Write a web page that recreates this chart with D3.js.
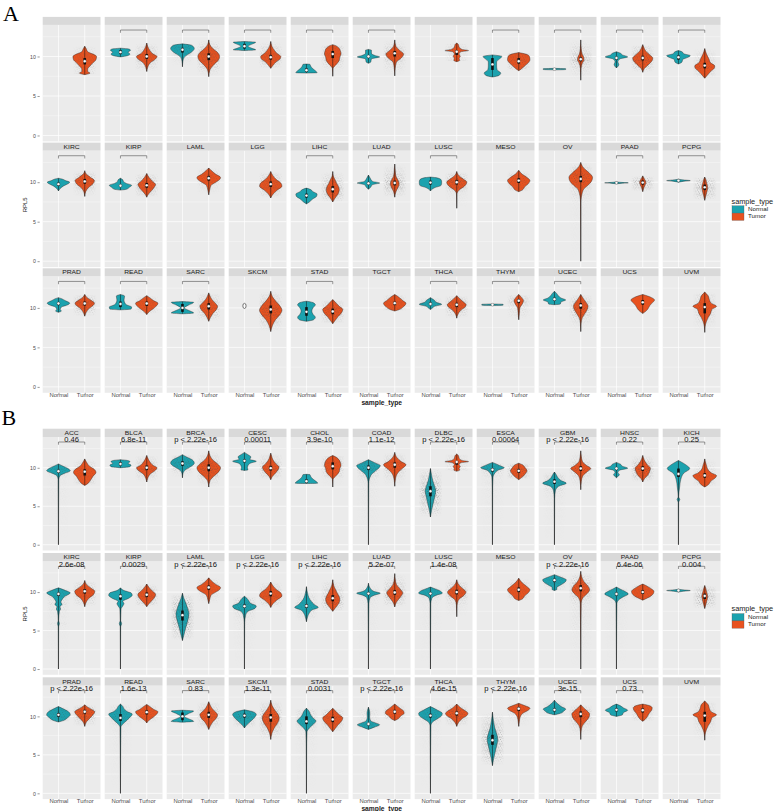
<!DOCTYPE html>
<html><head><meta charset="utf-8">
<script src="https://cdn.jsdelivr.net/npm/d3@7"></script>
<style>body{margin:0;background:#fff}</style>
</head><body><svg id="c" width="777" height="811"></svg>
<script>
const cancers = ["ACC","BLCA","BRCA","CESC","CHOL","COAD","DLBC","ESCA","GBM","HNSC","KICH",
 "KIRC","KIRP","LAML","LGG","LIHC","LUAD","LUSC","MESO","OV","PAAD","PCPG",
 "PRAD","READ","SARC","SKCM","STAD","TGCT","THCA","THYM","UCEC","UCS","UVM"];
const groups = ["Normal","Tumor"];
const yTicks = [0,5,10];
const yMinor = [2.5,7.5,12.5];
const bracketA = [0,1,1,1,1,1,0,1,1,1,1, 1,1,0,0,1,1,1,0,0,1,1, 1,1,1,0,1,0,1,1,1,0,0];
const pvalsB = ["0.46","6.8e-11","p < 2.22e-16","0.00011","3.9e-10","1.1e-12","p < 2.22e-16","0.00064","p < 2.22e-16","0.22","0.25",
 "2.6e-08","0.0029","p < 2.22e-16","p < 2.22e-16","p < 2.22e-16","5.2e-07","1.4e-08",null,"p < 2.22e-16","6.4e-06","0.004",
 "p < 2.22e-16","1.6e-13","0.83","1.3e-11","0.0031","p < 2.22e-16","4.6e-15","p < 2.22e-16","3e-15","0.73",null];

// each violin: [median, q1, q3, jitterLevel, [[value, relativeHalfWidth], ...]]
const normalA = [
 null,
 [10.55,10.3,10.8,0,[[9.95,0],[10.1,0.6],[10.3,0.8],[10.55,0.65],[10.8,0.85],[10.95,0.7],[11.05,0]]],
 [10.85,10.5,11.1,1,[[8.7,0],[9.4,0.04],[9.9,0.15],[10.3,0.5],[10.6,0.8],[11.0,1.0],[11.4,0.8],[11.6,0]]],
 [11.3,11.0,11.6,0,[[10.75,0],[10.85,0.95],[11.0,0.7],[11.3,0.3],[11.6,0.7],[11.8,0.95],[11.9,0]]],
 [8.25,8.05,8.5,0,[[7.9,0],[7.95,0.9],[8.2,0.75],[8.5,0.5],[8.8,0.35],[9.0,0.3],[9.05,0]]],
 [10.0,9.85,10.15,0,[[9.15,0],[9.3,0.2],[9.7,0.25],[9.95,0.95],[10.1,0.6],[10.4,0.25],[10.8,0.25],[10.9,0]]],
 null,
 [9.0,8.3,9.8,0,[[7.4,0],[7.6,0.55],[7.9,0.7],[8.3,0.4],[8.8,0.35],[9.3,0.35],[9.7,0.6],[10.0,0.8],[10.2,0]]],
 [8.4,8.35,8.45,0,[[8.3,0],[8.35,0.95],[8.45,0.95],[8.5,0]]],
 [9.8,9.6,10.0,0,[[8.55,0],[8.7,0.1],[9.0,0.2],[9.3,0.12],[9.7,0.3],[9.95,0.95],[10.2,0.5],[10.4,0.35],[10.6,0]]],
 [9.9,9.6,10.15,0,[[9.05,0],[9.3,0.3],[9.6,0.35],[9.9,0.8],[10.1,1.0],[10.35,0.45],[10.6,0.3],[10.75,0]]],
 [9.75,9.55,9.95,0,[[8.9,0],[9.2,0.15],[9.5,0.4],[9.8,0.8],[10.0,0.95],[10.2,0.6],[10.4,0.3],[10.5,0]]],
 [9.55,9.4,9.7,0,[[9.0,0],[9.1,0.5],[9.35,0.75],[9.6,0.95],[9.85,0.5],[10.1,0.25],[10.3,0.2],[10.5,0]]],
 null,
 null,
 [8.3,8.05,8.55,0,[[7.25,0],[7.5,0.25],[7.9,0.55],[8.2,0.85],[8.5,0.9],[8.8,0.55],[9.1,0.3],[9.25,0]]],
 [9.85,9.7,10.0,0,[[9.1,0],[9.4,0.2],[9.7,0.35],[9.9,0.95],[10.1,0.35],[10.5,0.15],[10.9,0]]],
 [9.95,9.7,10.2,0,[[8.9,0],[9.3,0.35],[9.6,0.9],[10.0,0.95],[10.3,0.9],[10.55,0.55],[10.65,0]]],
 null,
 null,
 [9.92,9.88,9.96,0,[[9.8,0],[9.85,0.4],[9.92,1.0],[9.98,0.4],[10.05,0]]],
 [10.2,10.15,10.25,0,[[10.0,0],[10.1,0.4],[10.2,1.0],[10.3,0.3],[10.4,0]]],
 [10.55,10.35,10.75,0,[[9.45,0],[9.6,0.25],[9.8,0.15],[10.1,0.25],[10.4,0.8],[10.6,0.95],[10.9,0.6],[11.2,0.2],[11.3,0]]],
 [10.5,10.1,10.8,0,[[9.75,0],[9.85,0.9],[10.1,0.95],[10.4,0.5],[10.7,0.35],[11.0,0.3],[11.5,0.35],[11.7,0]]],
 [10.0,9.5,10.5,0,[[9.25,0],[9.35,0.95],[9.7,0.5],[10.0,0.15],[10.35,0.5],[10.7,0.95],[10.8,0]]],
 [10.25,10.25,10.25,0,[[10.25,0]]],
 [9.5,9.0,10.1,0,[[8.3,0],[8.5,0.6],[8.8,0.75],[9.2,0.55],[9.6,0.45],[10.0,0.55],[10.4,0.75],[10.7,0.5],[10.85,0]]],
 null,
 [10.5,10.35,10.7,1,[[9.8,0],[9.95,0.15],[10.2,0.35],[10.45,0.95],[10.7,0.5],[10.95,0.35],[11.15,0.15],[11.3,0]]],
 [10.4,10.37,10.43,0,[[10.3,0],[10.35,0.9],[10.45,0.9],[10.5,0]]],
 [11.1,10.9,11.3,0,[[10.4,0],[10.5,0.5],[10.75,0.55],[11.0,0.95],[11.25,0.55],[11.5,0.35],[11.8,0.2],[12.1,0]]],
 null,
 null
];
const tumorA = [
 [9.4,9.0,9.8,1,[[7.7,0],[7.9,0.45],[8.1,0.25],[8.4,0.25],[8.8,0.45],[9.2,0.7],[9.6,0.95],[10.0,1.0],[10.3,0.7],[10.6,0.25],[11.0,0.12],[11.3,0]]],
 [10.0,9.7,10.3,2,[[8.1,0],[8.6,0.08],[9.2,0.3],[9.7,0.75],[10.0,0.87],[10.3,0.55],[10.8,0.25],[11.3,0.08],[11.7,0]]],
 [10.0,9.55,10.4,3,[[7.45,0],[8.3,0.1],[9.0,0.45],[9.5,0.8],[10.0,0.92],[10.5,0.75],[11.0,0.35],[11.5,0.1],[12.1,0]]],
 [9.9,9.6,10.2,2,[[8.5,0],[8.9,0.2],[9.3,0.45],[9.7,0.8],[10.0,0.85],[10.3,0.6],[10.8,0.3],[11.3,0.1],[11.9,0]]],
 [10.3,9.8,10.7,1,[[7.5,0],[8.5,0.03],[9.0,0.3],[9.5,0.55],[9.9,0.6],[10.3,0.7],[10.7,0.65],[11.1,0.5],[11.4,0.2],[11.5,0]]],
 [10.4,10.0,10.7,2,[[7.55,0],[8.5,0.04],[9.3,0.15],[9.8,0.55],[10.3,0.75],[10.8,0.4],[11.3,0.1],[12.1,0]]],
 [10.6,10.2,10.8,1,[[9.35,0],[9.5,0.25],[9.8,0.2],[10.0,0.3],[10.3,0.2],[10.6,0.35],[10.75,1.0],[10.9,0.45],[11.2,0.2],[11.5,0.15],[11.7,0]]],
 [9.4,9.1,9.8,2,[[8.2,0],[8.4,0.2],[8.8,0.5],[9.2,0.8],[9.6,0.95],[10.0,0.9],[10.3,0.6],[10.5,0]]],
 [9.65,9.4,9.9,2,[[7.0,0],[8.5,0.03],[9.2,0.15],[9.6,0.28],[9.9,0.25],[10.3,0.12],[11.0,0.04],[12.1,0]]],
 [9.8,9.5,10.1,3,[[8.0,0],[8.5,0.15],[9.0,0.5],[9.5,0.8],[9.8,0.85],[10.2,0.6],[10.7,0.25],[11.2,0.08],[11.5,0]]],
 [8.85,8.5,9.2,1,[[7.25,0],[7.6,0.2],[8.1,0.5],[8.5,0.8],[8.8,0.85],[9.2,0.5],[9.7,0.35],[10.3,0.15],[11.0,0]]],
 [10.1,9.8,10.4,2,[[8.2,0],[8.8,0.08],[9.3,0.3],[9.8,0.7],[10.2,0.82],[10.6,0.5],[11.0,0.15],[11.45,0]]],
 [9.6,9.3,9.9,2,[[8.1,0],[8.5,0.15],[9.0,0.45],[9.4,0.65],[9.7,0.75],[10.1,0.5],[10.6,0.2],[11.1,0]]],
 [10.5,10.2,10.8,1,[[8.4,0],[9.0,0.08],[9.6,0.2],[10.0,0.6],[10.3,0.9],[10.6,1.0],[11.0,0.6],[11.5,0.2],[11.8,0]]],
 [9.75,9.4,10.1,2,[[8.0,0],[8.5,0.2],[9.0,0.55],[9.5,0.95],[9.9,0.85],[10.3,0.5],[10.8,0.2],[11.35,0]]],
 [9.1,8.7,9.5,2,[[7.5,0],[8.0,0.2],[8.5,0.45],[9.0,0.55],[9.4,0.5],[9.8,0.35],[10.3,0.2],[10.8,0.05],[11.35,0]]],
 [9.9,9.6,10.2,3,[[8.1,0],[8.8,0.1],[9.4,0.3],[9.8,0.38],[10.2,0.3],[10.8,0.1],[11.5,0.04],[12.3,0]]],
 [10.0,9.7,10.3,3,[[6.7,0],[8.5,0.02],[9.0,0.2],[9.5,0.65],[10.0,0.85],[10.4,0.55],[10.8,0.2],[11.35,0]]],
 [10.2,9.9,10.5,1,[[8.8,0],[9.0,0.3],[9.4,0.5],[9.8,0.8],[10.2,0.95],[10.6,0.7],[11.0,0.3],[11.5,0]]],
 [10.4,10.0,10.8,2,[[0,0],[7.5,0.02],[9.0,0.2],[9.6,0.6],[10.1,0.9],[10.6,1.0],[11.2,0.7],[11.8,0.25],[12.5,0]]],
 [9.95,9.7,10.2,2,[[8.8,0],[9.3,0.1],[9.7,0.22],[10.0,0.27],[10.3,0.18],[10.8,0]]],
 [9.35,9.0,9.7,2,[[7.7,0],[8.3,0.1],[8.9,0.2],[9.4,0.25],[9.8,0.18],[10.3,0.1],[10.65,0]]],
 [10.55,10.3,10.8,3,[[8.95,0],[9.5,0.15],[9.9,0.35],[10.3,0.7],[10.6,0.82],[10.9,0.6],[11.3,0.2],[11.7,0]]],
 [10.55,10.25,10.8,1,[[9.15,0],[9.5,0.2],[9.9,0.55],[10.3,0.85],[10.6,0.95],[10.9,0.6],[11.3,0.25],[11.55,0]]],
 [10.2,9.8,10.6,2,[[8.3,0],[8.8,0.15],[9.3,0.35],[9.8,0.65],[10.2,0.75],[10.6,0.55],[11.1,0.25],[11.6,0.08],[11.9,0]]],
 [9.8,9.3,10.3,3,[[7.0,0],[7.8,0.15],[8.5,0.4],[9.2,0.8],[9.7,0.95],[10.2,0.8],[10.8,0.45],[11.4,0.15],[12.1,0]]],
 [9.55,9.2,9.9,2,[[8.0,0],[8.4,0.2],[8.9,0.45],[9.4,0.75],[9.8,0.85],[10.2,0.55],[10.6,0.3],[11.05,0]]],
 [10.6,10.35,10.8,1,[[9.6,0],[9.8,0.4],[10.1,0.7],[10.4,0.9],[10.6,0.95],[10.9,0.7],[11.3,0.4],[11.7,0]]],
 [10.4,10.1,10.65,3,[[8.7,0],[9.2,0.1],[9.7,0.35],[10.1,0.7],[10.4,0.8],[10.7,0.6],[11.1,0.3],[11.55,0]]],
 [10.9,10.6,11.1,1,[[8.5,0],[9.3,0.05],[10.0,0.1],[10.5,0.3],[10.9,0.4],[11.3,0.25],[11.7,0]]],
 [10.3,9.9,10.6,2,[[7.0,0],[8.0,0.03],[8.8,0.15],[9.3,0.35],[9.8,0.55],[10.2,0.62],[10.6,0.5],[11.1,0.25],[11.7,0]]],
 [10.7,10.4,11.0,0,[[9.3,0],[9.5,0.2],[9.9,0.45],[10.3,0.6],[10.7,0.85],[11.0,1.0],[11.3,0.75],[11.7,0]]],
 [10.1,9.3,10.6,1,[[6.9,0],[7.6,0.03],[8.3,0.15],[8.8,0.3],[9.3,0.5],[9.8,0.6],[10.2,1.0],[10.6,0.55],[11.0,0.4],[11.5,0.3],[12.0,0]]]
];
const normalB = [
 [9.55,9.35,9.75,1,[[0,0],[8.5,0.03],[9.0,0.15],[9.3,0.55],[9.6,1.0],[9.9,0.8],[10.2,0.4],[10.5,0]]],
 [10.5,10.3,10.75,0,[[10.0,0],[10.15,0.8],[10.35,0.9],[10.55,0.65],[10.8,0.8],[10.95,0.6],[11.05,0]]],
 [10.55,10.25,10.85,2,[[8.7,0],[9.3,0.05],[9.8,0.3],[10.2,0.75],[10.6,1.0],[11.0,0.85],[11.4,0.35],[11.7,0]]],
 [10.9,10.7,11.1,0,[[9.65,0],[9.75,0.3],[10.0,0.25],[10.3,0.3],[10.6,0.5],[10.85,1.0],[11.1,0.45],[11.4,0.55],[11.7,0.3],[12.0,0]]],
 [8.25,8.05,8.5,0,[[7.95,0],[8.0,0.95],[8.3,0.75],[8.6,0.5],[8.9,0.35],[9.1,0.3],[9.15,0]]],
 [10.0,9.7,10.3,2,[[0,0],[8.0,0.03],[9.0,0.2],[9.6,0.6],[10.0,0.9],[10.3,1.0],[10.6,0.6],[10.9,0.2],[11.05,0]]],
 [6.95,6.3,7.6,3,[[3.6,0],[4.5,0.1],[5.5,0.25],[6.5,0.4],[7.0,0.45],[7.6,0.35],[8.3,0.2],[9.0,0.1],[9.9,0]]],
 [9.75,9.5,9.95,2,[[0,0],[7.5,0.02],[8.8,0.05],[9.3,0.2],[9.7,0.5],[10.0,1.0],[10.3,0.6],[10.7,0]]],
 [8.2,7.9,8.5,2,[[0,0],[6.0,0.02],[7.0,0.08],[7.6,0.35],[8.0,1.0],[8.3,0.6],[8.7,0.3],[9.1,0.15],[9.45,0]]],
 [9.9,9.7,10.05,0,[[8.7,0],[8.85,0.1],[9.1,0.25],[9.4,0.12],[9.7,0.3],[9.95,0.95],[10.2,0.5],[10.45,0.35],[10.7,0]]],
 [9.2,8.8,9.9,0,[[0,0],[5.5,0.02],[5.9,0.12],[6.2,0.02],[7.5,0.1],[8.5,0.2],[9.3,0.45],[9.9,0.95],[10.3,0.7],[10.7,0.3],[10.95,0]]],
 [9.75,9.5,9.95,1,[[0,0],[5.5,0.02],[5.9,0.08],[6.3,0.02],[7.5,0.08],[7.8,0.18],[8.1,0.12],[8.4,0.3],[8.7,0.2],[9.0,0.3],[9.4,0.5],[9.9,1.0],[10.2,0.6],[10.55,0]]],
 [9.45,9.0,9.7,0,[[0,0],[5.5,0.02],[5.9,0.1],[6.3,0.02],[7.8,0.05],[8.2,0.2],[8.5,0.3],[8.8,0.2],[9.2,0.7],[9.6,1.0],[9.9,0.9],[10.2,0.3],[10.55,0]]],
 [7.0,6.3,7.6,3,[[3.7,0],[4.3,0.1],[5.2,0.25],[6.0,0.4],[6.6,0.5],[7.2,0.55],[7.8,0.45],[8.5,0.3],[9.2,0.12],[9.85,0]]],
 [8.15,7.95,8.4,2,[[0,0],[6.0,0.02],[7.0,0.1],[7.5,0.3],[7.9,0.9],[8.2,1.0],[8.5,0.55],[8.9,0.35],[9.2,0.2],[9.45,0]]],
 [8.2,7.95,8.45,1,[[6.15,0],[6.5,0.05],[6.9,0.12],[7.3,0.25],[7.7,0.5],[8.0,1.0],[8.4,0.65],[8.8,0.4],[9.3,0.2],[9.8,0.1],[10.7,0]]],
 [9.8,9.65,9.95,1,[[0,0],[6.0,0.02],[8.5,0.04],[9.3,0.15],[9.6,0.5],[9.85,1.0],[10.1,0.45],[10.5,0.15],[11.15,0]]],
 [9.8,9.65,9.95,1,[[0,0],[6.0,0.02],[8.5,0.03],[9.2,0.12],[9.6,0.5],[9.85,1.0],[10.2,0.75],[10.5,0.25],[10.65,0]]],
 null,
 [11.55,11.3,11.75,1,[[10.2,0],[10.35,0.2],[10.6,0.2],[10.9,0.5],[11.3,0.9],[11.6,1.0],[11.9,0.6],[12.26,0]]],
 [9.75,9.55,9.95,1,[[0,0],[6.0,0.02],[8.5,0.04],[9.0,0.2],[9.4,0.6],[9.75,1.0],[10.1,0.7],[10.4,0.3],[10.65,0]]],
 [10.2,10.15,10.25,0,[[10.0,0],[10.1,0.4],[10.2,1.0],[10.3,0.3],[10.4,0]]],
 [10.2,9.95,10.45,1,[[9.27,0],[9.45,0.4],[9.8,0.75],[10.2,1.0],[10.6,0.85],[10.95,0.45],[11.28,0]]],
 [9.8,9.4,10.3,1,[[0,0],[6.0,0.02],[8.6,0.04],[9.0,0.2],[9.5,0.55],[9.8,0.75],[10.3,1.0],[10.6,0.6],[11.0,0.3],[11.3,0.2],[11.6,0]]],
 [10.0,9.5,10.5,0,[[9.25,0],[9.35,0.95],[9.7,0.5],[10.0,0.15],[10.35,0.5],[10.7,0.95],[10.8,0]]],
 [10.1,9.85,10.35,2,[[8.5,0],[8.8,0.15],[9.2,0.4],[9.6,0.7],[9.95,0.9],[10.25,1.0],[10.55,0.8],[10.85,0]]],
 [9.35,9.0,10.0,1,[[0,0],[6.5,0.02],[8.0,0.05],[8.5,0.25],[9.0,0.6],[9.4,0.8],[9.8,0.55],[10.2,0.35],[10.6,0.25],[11.07,0]]],
 [9.0,8.85,9.15,1,[[8.3,0],[8.6,0.5],[8.9,0.95],[9.15,0.6],[9.4,0.2],[9.9,0.1],[10.4,0.12],[10.8,0.08],[11.2,0]]],
 [10.1,9.85,10.35,1,[[0,0],[6.0,0.02],[8.8,0.04],[9.3,0.2],[9.7,0.6],[10.1,0.95],[10.4,1.0],[10.8,0.6],[11.28,0]]],
 [6.9,6.3,7.6,3,[[3.6,0],[4.5,0.1],[5.5,0.25],[6.5,0.4],[7.0,0.45],[7.6,0.38],[8.5,0.2],[9.5,0.08],[10.55,0]]],
 [10.85,10.65,11.05,1,[[10.2,0],[10.4,0.5],[10.7,0.8],[10.95,0.95],[11.25,0.6],[11.6,0.3],[12.1,0]]],
 [10.85,10.65,11.05,0,[[10.0,0],[10.2,0.5],[10.5,0.6],[10.8,0.95],[11.1,0.6],[11.4,0.3],[11.6,0]]],
 null
];
const tumorB = [
 [9.5,9.0,9.8,1,[[7.7,0],[8.0,0.3],[8.4,0.5],[8.9,0.7],[9.4,0.95],[9.8,0.8],[10.2,0.4],[10.6,0.2],[11.15,0]]],
 [10.0,9.7,10.3,2,[[8.15,0],[8.6,0.08],[9.2,0.3],[9.7,0.75],[10.0,0.87],[10.3,0.55],[10.8,0.25],[11.3,0.08],[11.6,0]]],
 [10.0,9.55,10.45,3,[[7.5,0],[8.3,0.1],[9.0,0.5],[9.5,0.85],[10.0,1.0],[10.5,0.75],[11.0,0.35],[11.6,0.1],[12.2,0]]],
 [9.95,9.65,10.25,2,[[8.45,0],[8.9,0.15],[9.4,0.45],[9.8,0.65],[10.1,0.7],[10.5,0.45],[11.0,0.2],[11.5,0.08],[11.9,0]]],
 [10.2,9.8,10.7,1,[[7.5,0],[8.5,0.03],[9.0,0.3],[9.5,0.55],[9.9,0.6],[10.3,0.7],[10.7,0.65],[11.1,0.5],[11.45,0.2],[11.6,0]]],
 [10.4,10.0,10.7,2,[[7.6,0],[8.4,0.05],[9.2,0.2],[9.8,0.55],[10.4,0.95],[10.8,0.55],[11.3,0.2],[12.0,0]]],
 [10.75,10.4,10.9,1,[[9.55,0],[9.7,0.25],[9.95,0.2],[10.15,0.3],[10.4,0.2],[10.65,0.35],[10.8,1.0],[10.95,0.45],[11.25,0.2],[11.55,0.15],[11.8,0]]],
 [9.6,9.35,9.85,2,[[8.45,0],[8.8,0.3],[9.2,0.55],[9.6,0.7],[10.0,0.55],[10.4,0.3],[10.6,0]]],
 [9.9,9.6,10.2,2,[[7.15,0],[8.2,0.05],[9.0,0.2],[9.5,0.55],[9.9,0.85],[10.3,0.5],[10.8,0.15],[11.5,0.05],[12.2,0]]],
 [9.9,9.6,10.2,3,[[8.15,0],[8.6,0.15],[9.1,0.45],[9.6,0.6],[9.95,0.65],[10.3,0.45],[10.8,0.2],[11.3,0.06],[11.6,0]]],
 [9.0,8.7,9.3,1,[[7.5,0],[7.8,0.3],[8.3,0.55],[8.7,0.9],[9.0,1.0],[9.3,0.6],[9.7,0.3],[10.3,0.15],[10.8,0.05],[11.15,0]]],
 [10.1,9.8,10.4,2,[[8.1,0],[8.6,0.1],[9.2,0.35],[9.7,0.75],[10.1,0.85],[10.5,0.55],[11.0,0.15],[11.5,0]]],
 [9.65,9.35,9.95,2,[[8.1,0],[8.5,0.2],[9.0,0.5],[9.4,0.7],[9.7,0.75],[10.1,0.5],[10.6,0.2],[11.05,0]]],
 [10.6,10.3,10.85,1,[[8.5,0],[9.0,0.08],[9.6,0.2],[10.0,0.6],[10.3,0.9],[10.6,1.0],[11.0,0.6],[11.5,0.2],[11.85,0]]],
 [9.8,9.45,10.15,2,[[8.0,0],[8.5,0.2],[9.0,0.55],[9.5,0.95],[9.9,0.85],[10.3,0.5],[10.8,0.2],[11.3,0]]],
 [9.2,8.8,9.6,2,[[7.5,0],[8.0,0.25],[8.5,0.5],[9.0,0.6],[9.4,0.55],[9.8,0.4],[10.3,0.25],[10.8,0.1],[11.6,0]]],
 [9.95,9.65,10.25,3,[[8.07,0],[8.7,0.15],[9.3,0.45],[9.9,0.68],[10.4,0.45],[11.0,0.15],[11.7,0.04],[12.4,0]]],
 [10.0,9.7,10.3,3,[[6.8,0],[8.3,0.03],[9.0,0.15],[9.5,0.55],[10.0,0.78],[10.4,0.55],[10.9,0.2],[11.6,0]]],
 [10.3,10.0,10.6,1,[[8.9,0],[9.1,0.3],[9.5,0.5],[9.9,0.8],[10.3,0.95],[10.7,0.7],[11.2,0.3],[11.8,0]]],
 [10.5,10.1,10.9,3,[[0,0],[6.0,0.02],[8.5,0.04],[9.3,0.2],[9.8,0.55],[10.3,0.75],[10.8,0.6],[11.3,0.3],[12.0,0.08],[12.7,0]]],
 [10.0,9.75,10.25,1,[[8.95,0],[9.2,0.35],[9.5,0.7],[9.8,0.9],[10.1,0.95],[10.4,0.75],[10.7,0.45],[11.05,0]]],
 [9.5,9.1,9.8,2,[[7.86,0],[8.4,0.1],[9.0,0.2],[9.5,0.25],[9.9,0.18],[10.4,0.1],[10.85,0]]],
 [10.6,10.35,10.85,3,[[8.7,0],[9.3,0.15],[9.8,0.45],[10.3,0.75],[10.6,0.85],[10.9,0.6],[11.2,0.25],[11.5,0]]],
 [10.55,10.25,10.8,1,[[9.15,0],[9.5,0.2],[9.9,0.55],[10.3,0.85],[10.6,0.95],[10.9,0.6],[11.3,0.25],[11.55,0]]],
 [10.2,9.8,10.6,2,[[8.3,0],[8.8,0.15],[9.3,0.35],[9.8,0.65],[10.2,0.75],[10.6,0.55],[11.1,0.25],[11.6,0.08],[11.9,0]]],
 [9.85,9.3,10.3,3,[[7.0,0],[7.8,0.1],[8.5,0.3],[9.2,0.6],[9.8,0.72],[10.3,0.6],[10.8,0.35],[11.4,0.12],[12.1,0]]],
 [9.6,9.25,9.95,2,[[8.0,0],[8.4,0.2],[8.9,0.45],[9.4,0.75],[9.8,0.85],[10.2,0.55],[10.6,0.3],[11.05,0]]],
 [10.6,10.35,10.85,1,[[9.45,0],[9.7,0.3],[10.1,0.55],[10.4,0.8],[10.7,0.75],[11.0,0.5],[11.3,0.25],[11.6,0]]],
 [10.4,10.1,10.65,3,[[8.7,0],[9.2,0.15],[9.7,0.45],[10.1,0.85],[10.4,0.95],[10.7,0.75],[11.1,0.35],[11.6,0]]],
 [11.0,10.7,11.2,1,[[8.7,0],[9.3,0.05],[9.9,0.12],[10.4,0.35],[10.8,0.8],[11.05,0.95],[11.4,0.5],[11.7,0]]],
 [10.3,9.9,10.65,2,[[7.0,0],[8.0,0.03],[8.8,0.15],[9.4,0.45],[9.9,0.7],[10.3,0.75],[10.7,0.55],[11.1,0.25],[11.5,0]]],
 [10.8,10.5,11.05,1,[[9.36,0],[9.6,0.2],[10.0,0.4],[10.4,0.55],[10.8,0.75],[11.1,0.8],[11.4,0.55],[11.6,0]]],
 [10.1,9.3,10.6,1,[[6.9,0],[7.6,0.03],[8.3,0.15],[8.8,0.3],[9.3,0.5],[9.8,0.6],[10.2,1.0],[10.6,0.55],[11.0,0.4],[11.5,0.3],[12.0,0]]]
];

// ---------- drawing ----------
const FONT = "'Liberation Sans', Arial, Helvetica, sans-serif";
const fillColor = ["#1CA2AE", "#E8521F"];
const svg = d3.select("#c");
svg.append("rect").attr("width",777).attr("height",811).attr("fill","#fff");
const defs = svg.append("defs");
// scattered-dot tile used as the jitter texture (styling only)
const pat = defs.append("pattern").attr("id","dots").attr("patternUnits","userSpaceOnUse")
  .attr("width",7.3).attr("height",6.7);
[[0.4,0.7],[2.9,0.3],[5.6,1.1],[1.6,2.0],[4.1,2.4],[6.8,3.0],[0.7,3.9],[2.6,4.6],[5.0,4.3],
 [3.6,6.1],[6.2,5.8],[1.2,5.9],[4.6,0.2],[7.0,1.6],[2.0,3.2],[5.8,6.5]].forEach(p =>
  pat.append("circle").attr("cx",p[0]).attr("cy",p[1]).attr("r",0.42).attr("fill","#4a4a4a"));
const hg = defs.append("linearGradient").attr("id","hgrad").attr("x1",0).attr("x2",1).attr("y1",0).attr("y2",0);
[[0,0],[0.2,0.85],[0.5,1],[0.8,0.85],[1,0]].forEach(s=>hg.append("stop").attr("offset",s[0]).attr("stop-color","#fff").attr("stop-opacity",s[1]));
defs.append("mask").attr("id","hmask").attr("maskContentUnits","objectBoundingBox")
  .append("rect").attr("width",1).attr("height",1).attr("fill","url(#hgrad)");

function txt(g, x, y, s, o) {
  const t = g.append("text")
    .attr("transform", o.rot ? `translate(${x},${y}) rotate(${o.rot})` : `translate(${x},${y}) scale(${o.sx||1},1)`)
    .attr("text-anchor", o.anchor || "middle")
    .attr("font-family", o.serif ? "'Liberation Serif','DejaVu Serif',serif" : FONT)
    .attr("font-size", o.size).attr("fill", o.fill || "#1a1a1a").text(s);
  if (o.bold) t.attr("font-weight","bold");
  return t;
}

let uid = 0;
function drawViolin(g, d, cx, y, band, color) {
  const [med,q1,q3,jit,prof] = d;
  const hw = 0.45*band;
  if (prof.length < 2) {
    g.append("ellipse").attr("cx",cx).attr("cy",y(med)).attr("rx",1.6).attr("ry",2.6)
      .attr("fill","#fff").attr("stroke","#222").attr("stroke-width",0.6);
    return;
  }
  const desc = prof.slice().reverse();
  const area = d3.area().curve(d3.curveMonotoneY)
    .y(p=>y(p[0])).x0(p=>cx - p[1]*hw).x1(p=>cx + p[1]*hw);
  g.append("path").attr("d", area(desc)).attr("fill", color)
    .attr("stroke","#222").attr("stroke-width",0.4);
  const lo = prof[0][0], hi = prof[prof.length-1][0];
  if (jit > 0) {
    const f = [0,0.6,0.85,1][jit];
    const maxw = d3.max(prof, p=>p[1]);
    const id = "vm" + (uid++);
    const gr = defs.append("linearGradient").attr("id","g"+id).attr("x1",0).attr("x2",0).attr("y1",0).attr("y2",1);
    desc.forEach(p => gr.append("stop").attr("offset",(hi-p[0])/(hi-lo))
      .attr("stop-color","#fff").attr("stop-opacity", Math.min(1, f*Math.pow(p[1]/maxw,0.6))));
    defs.append("mask").attr("id",id).attr("maskContentUnits","objectBoundingBox")
      .append("rect").attr("width",1).attr("height",1).attr("fill",`url(#g${id})`);
    g.append("g").attr("mask","url(#hmask)").append("rect")
      .attr("x", cx-0.46*band).attr("width",0.92*band)
      .attr("y", y(hi)).attr("height", y(lo)-y(hi))
      .attr("fill","url(#dots)").attr("mask",`url(#${id})`);
  }
  g.append("line").attr("x1",cx).attr("x2",cx).attr("y1",y(lo)).attr("y2",y(hi))
    .attr("stroke","#111").attr("stroke-width",0.5);
  g.append("rect").attr("x",cx-1.3).attr("width",2.6).attr("y",y(q3)).attr("height",Math.max(0.4,y(q1)-y(q3)))
    .attr("fill","#111");
  g.append("circle").attr("cx",cx).attr("cy",y(med)).attr("r",1.45)
    .attr("fill","#fff").attr("stroke","#222").attr("stroke-width",0.3);
}

function drawBlock(B) {
  cancers.forEach((name, i) => {
    const row = Math.floor(i/11), col = i % 11;
    const left = 42.7 + col*62.0, W = 57.8;
    const sTop = B.stripTops[row], pTop = sTop + B.stripH, pBot = pTop + B.plotH;
    const x = d3.scalePoint().domain(groups).range([left, left+W]).padding(0.6);
    const y = d3.scaleLinear().domain([-0.75, 14]).range([pBot, pTop]);
    const band = x.step();
    const g = svg.append("g");
    g.append("rect").attr("x",left).attr("y",pTop).attr("width",W).attr("height",pBot-pTop).attr("fill","#EBEBEB");
    yMinor.forEach(v => g.append("line").attr("x1",left).attr("x2",left+W).attr("y1",y(v)).attr("y2",y(v))
      .attr("stroke","#fff").attr("stroke-width",0.35));
    yTicks.forEach(v => g.append("line").attr("x1",left).attr("x2",left+W).attr("y1",y(v)).attr("y2",y(v))
      .attr("stroke","#fff").attr("stroke-width",0.7));
    groups.forEach(k => g.append("line").attr("x1",x(k)).attr("x2",x(k)).attr("y1",pTop).attr("y2",pBot)
      .attr("stroke","#fff").attr("stroke-width",0.7));
    g.append("rect").attr("x",left).attr("y",sTop).attr("width",W).attr("height",B.stripH).attr("fill","#D9D9D9");
    if (!(B.hideFirstStrip && row === 0))
      txt(g, left+W/2, sTop+B.stripH-2.1, name, {size:5.4, sx:1.25});
    [B.normal[i], B.tumor[i]].forEach((d,k) => { if (d) drawViolin(g, d, x(groups[k]), y, band, fillColor[k]); });
    const showBr = B.pvals ? B.pvals[i] != null : B.brackets[i] === 1;
    if (showBr) {
      const p = d3.path();
      p.moveTo(x("Normal"), y(13.0)); p.lineTo(x("Normal"), y(13.35));
      p.lineTo(x("Tumor"), y(13.35)); p.lineTo(x("Tumor"), y(13.0));
      g.append("path").attr("d", p.toString()).attr("fill","none").attr("stroke","#333").attr("stroke-width",0.5);
      if (B.pvals) txt(g, (x("Normal")+x("Tumor"))/2, y(13.35)+0.4, B.pvals[i], {size:6.6, sx:1.15, fill:"#111"});
    }
    if (col === 0) {
      const ax = g.append("g").attr("transform",`translate(${left-3},0)`)
        .call(d3.axisLeft(y).tickValues(yTicks).tickSize(2.2).tickPadding(1.6).tickSizeOuter(0));
      ax.select(".domain").remove();
      ax.selectAll("line").attr("stroke","#333").attr("stroke-width",0.5);
      ax.selectAll("text").attr("font-size",5.2).attr("font-family",FONT).attr("fill","#4D4D4D");
    }
    if (row === 2) {
      const ax = g.append("g").attr("transform",`translate(0,${pBot})`)
        .call(d3.axisBottom(x).tickSize(1.2).tickSizeOuter(0));
      ax.select(".domain").remove();
      ax.selectAll("line").attr("stroke","#333").attr("stroke-width",0.5);
      ax.selectAll("text").attr("font-size",4.9).attr("font-family",FONT).attr("fill","#4D4D4D")
        .attr("y",0.9).attr("dy","0.71em").attr("transform","scale(1.2,1)");
    }
  });
  const midRow = (B.stripTops[1] + B.stripTops[1] + B.stripH + B.plotH)/2;
  txt(svg, 27, midRow, "RPL5", {size:6, rot:-90});
  txt(svg, 381.7, B.xTitleY, "sample_type", {size:6.4, bold:true, sx:1.05});
  const L = B.legend;
  txt(svg, 731.5, L.titleY, "sample_type", {size:6.4, sx:1.15, anchor:"start"});
  groups.forEach((k,j) => {
    svg.append("rect").attr("x",732).attr("y",L.keyY + j*7.3).attr("width",12).attr("height",7.3)
      .attr("fill",fillColor[j]).attr("stroke","#555").attr("stroke-width",0.3);
    txt(svg, 748, L.keyY + j*7.3 + 5.3, k, {size:5, sx:1.25, anchor:"start", fill:"#1a1a1a"});
  });
  txt(svg, B.tag.x, B.tag.y, B.tag.s, {size:22, serif:true, anchor:"start", fill:"#000"});
}

drawBlock({stripTops:[16.9,142.6,268.3], stripH:8, plotH:116.5, normal:normalA, tumor:tumorA,
  brackets:bracketA, pvals:null, hideFirstStrip:true, xTitleY:405.2,
  legend:{titleY:203.8, keyY:205.8}, tag:{x:3, y:20.5, s:"A"}});
drawBlock({stripTops:[428.7,553.0,677.3], stripH:8.3, plotH:113.5, normal:normalB, tumor:tumorB,
  brackets:null, pvals:pvalsB, hideFirstStrip:false, xTitleY:810.6,
  legend:{titleY:610.6, keyY:613.6}, tag:{x:1.5, y:425, s:"B"}});
</script>
</body></html>
